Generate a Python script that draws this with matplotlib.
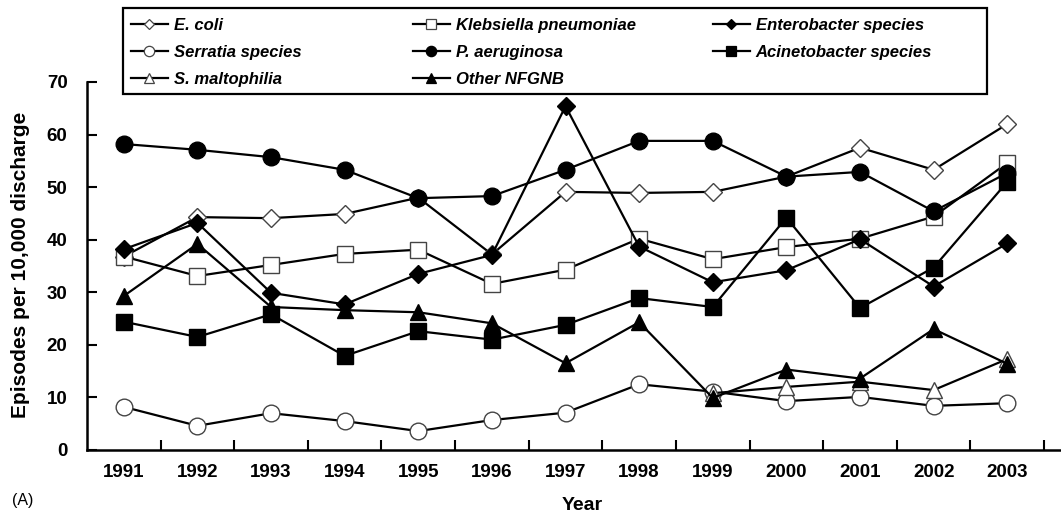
import numpy as np
import matplotlib
matplotlib.use("Agg")
import matplotlib.pyplot as plt
from matplotlib.lines import Line2D
from matplotlib.patches import Rectangle

years = [1991, 1992, 1993, 1994, 1995, 1996, 1997, 1998, 1999, 2000, 2001, 2002, 2003]
e_coli = [36.8, 44.3, 44.1, 44.9, 48.0, 37.2, 49.1, 48.9, 49.1, 52.0, 57.5, 53.3, 62.0]
klebsiella = [36.8, 33.1, 35.2, 37.3, 38.1, 31.6, 34.3, 40.2, 36.3, 38.6, 40.2, 44.4, 54.6]
enterobacter = [38.2, 43.2, 29.9, 27.7, 33.5, 37.1, 65.4, 38.7, 31.9, 34.2, 40.1, 31.1, 39.3]
serratia = [8.2, 4.6, 7.0, 5.5, 3.6, 5.7, 7.1, 12.5, 11.1, 9.3, 10.1, 8.4, 8.9]
p_aeruginosa = [58.2, 57.1, 55.7, 53.3, 47.9, 48.3, 53.3, 58.8, 58.8, 52.0, 52.9, 45.4, 52.7]
acinetobacter = [24.4, 21.5, 25.8, 17.9, 22.6, 21.0, 23.8, 28.9, 27.2, 44.2, 27.0, 34.7, 51.0]
s_maltophilia = [np.nan] * 8 + [10.8, 12.0, 13.0, 11.4, 17.3]
other_nfgnb = [29.3, 39.2, 27.2, 26.6, 26.2, 24.1, 16.5, 24.3, 9.9, 15.3, 13.6, 23.0, 16.4]

labels = ["E. coli", "Klebsiella pneumoniae", "Enterobacter species",
          "Serratia species", "P. aeruginosa", "Acinetobacter species",
          "S. maltophilia", "Other NFGNB"]

W, H = 1061, 515
fig = plt.figure(figsize=(W / 100, H / 100), dpi=100)
ax = fig.add_axes([87 / W, 1 - 450 / H, (W - 87) / W, (450 - 82) / H])

font = "Liberation Sans"
lw = 1.6
series = [
    (e_coli, "D", "white", 9, labels[0]),
    (klebsiella, "s", "white", 12, labels[1]),
    (enterobacter, "D", "black", 9, labels[2]),
    (serratia, "o", "white", 12, labels[3]),
    (p_aeruginosa, "o", "black", 12, labels[4]),
    (acinetobacter, "s", "black", 12, labels[5]),
    (s_maltophilia, "^", "white", 12, labels[6]),
    (other_nfgnb, "^", "black", 12, labels[7]),
]
handles = {}
for vals, mk, fc, ms, lab in series:
    ec = "#444444" if fc == "white" else "black"
    ax.plot(years, vals, color="black", lw=lw, marker=mk, markersize=ms,
            markerfacecolor=fc, markeredgecolor=ec, markeredgewidth=1.0, zorder=3)
    handles[lab] = Line2D([], [], color="black", lw=lw, marker=mk,
                          markersize=ms * 0.62, markerfacecolor=fc,
                          markeredgecolor=ec, markeredgewidth=0.9)

ax.set_xlim(1990.5, 2003.73)
ax.set_ylim(0, 70)
ax.set_yticks(range(0, 71, 10))
ax.set_xticks(years)
ax.set_xticks(np.arange(1991.5, 2003.6, 1.0), minor=True)
ax.tick_params(axis="x", which="major", length=0, pad=10)
ax.tick_params(axis="x", which="minor", direction="in", length=7, width=1.5)
ax.tick_params(axis="y", direction="in", length=7, width=1.5, pad=14)
for lbl in ax.get_xticklabels() + ax.get_yticklabels():
    lbl.set_fontfamily(font)
    lbl.set_fontweight("bold")
    lbl.set_fontsize(13.5)
for s in ["top", "right"]:
    ax.spines[s].set_visible(False)
for s in ["left", "bottom"]:
    ax.spines[s].set_linewidth(1.8)

fig.text(21 / W, 1 - 265 / H, "Episodes per 10,000 discharge", rotation=90,
         ha="center", va="center", fontfamily=font, fontweight="bold", fontsize=15)
fig.text(582 / W, 1 - 505 / H, "Year", ha="center", va="center",
         fontfamily=font, fontweight="bold", fontsize=14)
fig.text(12 / W, 1 - 500 / H, "(A)", ha="left", va="center",
         fontfamily=font, fontsize=11.5)

# legend frame
fig.patches.append(Rectangle((123 / W, 1 - 94 / H), (987 - 123) / W, (94 - 8) / H,
                             transform=fig.transFigure, fill=True, facecolor="white",
                             edgecolor="black", lw=1.6, zorder=5))
cols = [[labels[0], labels[3], labels[6]],
        [labels[1], labels[4], labels[7]],
        [labels[2], labels[5]]]
xs = [131, 413, 713]
for x, col in zip(xs, cols):
    leg = fig.legend([handles[l] for l in col], col, loc="upper left",
                     bbox_to_anchor=(x / W, 1 - 18 / H), frameon=False,
                     handlelength=2.2, handletextpad=0.35, labelspacing=0.72,
                     borderpad=0.0, borderaxespad=0.0,
                     prop={"family": font, "weight": "bold", "style": "italic", "size": 12})
    leg.set_zorder(6)

fig.savefig("out.png", dpi=100)
